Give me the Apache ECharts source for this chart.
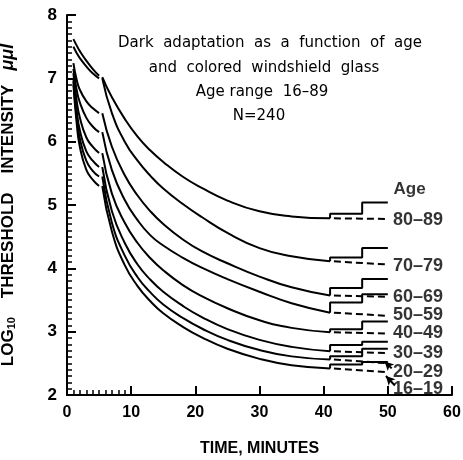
<!DOCTYPE html>
<html><head><meta charset="utf-8">
<script src="https://cdn.jsdelivr.net/npm/echarts@6/dist/echarts.min.js"></script>
<style>html,body{margin:0;padding:0;background:#fff}#c{width:463px;height:460px}</style>
</head><body><div id="c"></div>
<script>
// ---- data ----
const ageGroups = ['80–89','70–79','60–69','50–59','40–49','30–39','20–29','16–19'];
const xTicks = [0,10,20,30,40,50,60];
const yTicks = [2,3,4,5,6,7,8];
// early segment (first minutes)
const earlyTimes = [1,1.5,2,3,4,5];
const earlyValues = [
  [7.62,7.52,7.43,7.28,7.15,7.04],
  [7.50,7.40,7.32,7.19,7.08,7.00],
  [7.24,6.98,6.82,6.64,6.53,6.45],
  [7.15,6.82,6.62,6.38,6.24,6.15],
  [7.08,6.65,6.38,6.07,5.92,5.82],
  [7.00,6.50,6.18,5.85,5.70,5.60],
  [6.95,6.40,6.05,5.70,5.54,5.45],
  [6.90,6.30,5.92,5.56,5.40,5.30]
];
// main dark adaptation curve
const mainTimes = [5.5,7,9,11,13,15,18,21,25,30,35,41];
const mainValues = [
  [7.02,6.70,6.36,6.08,5.86,5.68,5.45,5.27,5.07,4.90,4.82,4.79],
  [7.00,6.45,6.00,5.70,5.46,5.26,5.02,4.81,4.56,4.32,4.19,4.11],
  [6.45,5.92,5.47,5.15,4.90,4.70,4.46,4.27,4.08,3.87,3.70,3.57],
  [6.15,5.55,5.08,4.76,4.52,4.36,4.17,4.01,3.83,3.63,3.45,3.30],
  [5.82,5.18,4.72,4.40,4.16,3.97,3.74,3.56,3.37,3.18,3.06,2.99],
  [5.60,4.90,4.40,4.06,3.82,3.63,3.41,3.23,3.04,2.87,2.76,2.69],
  [5.45,4.72,4.20,3.86,3.62,3.43,3.22,3.05,2.87,2.71,2.61,2.56],
  [5.30,4.58,4.05,3.72,3.48,3.29,3.08,2.91,2.73,2.57,2.47,2.42]
];
// colored windshield glass steps (solid) and no-glass continuation (dashed)
const glassTimes = [41,46,50];
const glassStep1 = [4.86,4.17,3.69,3.46,3.04,2.79,2.61,2.48];
const glassStep2 = [5.04,4.32,3.83,3.59,3.16,2.84,2.73,2.52];
const noGlassEnd = [4.78,4.06,3.55,3.25,2.97,2.66,2.50,2.36];
// label anchors (group labels at right)
const labelTime = 50.8;
const labelValues = [4.76,4.03,3.55,3.26,2.98,2.66,2.36,2.09];
const arrowFrom = [[50.6,2.42],[51.1,2.15]];
const arrowTo = [[49.5,2.53],[49.7,2.30]];

const black = '#000';
const font = 'Liberation Sans';
const lineBase = {type:'line', showSymbol:false, silent:true, animation:false, xAxisIndex:0, yAxisIndex:0};
const series = [];
ageGroups.forEach((g,i)=>{
  series.push(Object.assign({}, lineBase, {
    data: earlyTimes.map((t,j)=>[t, earlyValues[i][j]]),
    smooth:0.5, lineStyle:{color:black,width:2}
  }));
  series.push(Object.assign({}, lineBase, {
    data: mainTimes.map((t,j)=>[t, mainValues[i][j]]),
    smooth:0.5, lineStyle:{color:black,width:2}
  }));
  const b = mainValues[i][mainValues[i].length-1];
  series.push(Object.assign({}, lineBase, {
    data: [[glassTimes[0]+0.6,b],[glassTimes[2],noGlassEnd[i]]],
    lineStyle:{color:black,width:2,type:[7,4]}
  }));
  series.push(Object.assign({}, lineBase, {
    data: [[glassTimes[0],b],[glassTimes[0],glassStep1[i]],[glassTimes[1],glassStep1[i]],
           [glassTimes[1],glassStep2[i]],[glassTimes[2],glassStep2[i]]],
    lineStyle:{color:black,width:2}
  }));
});
series.push({
  type:'scatter', symbolSize:0, silent:true, animation:false,
  data: ageGroups.map((g,i)=>({name:g, value:[labelTime, labelValues[i]]})),
  label:{show:true, position:'right', distance:0, formatter:p=>p.name,
         color:black, fontFamily:font, fontWeight:'bold', fontSize:18}
});
series.push({
  type:'scatter', symbolSize:0, silent:true, animation:false,
  data:[{name:'Age', value:[53.4,5.24]}],
  label:{show:true, position:'inside', formatter:p=>p.name,
         color:black, fontFamily:font, fontWeight:'bold', fontSize:17}
});
series.push({
  type:'line', data:[], silent:true, animation:false,
  markLine:{silent:true, symbol:['none','arrow'], symbolSize:[7,9], animation:false,
    lineStyle:{color:black,width:2,type:'solid'}, label:{show:false},
    data: arrowFrom.map((f,k)=>[{coord:f},{coord:arrowTo[k]}])}
});

const minuteCats = [];
for (let m=0; m<=60; m++) minuteCats.push(String(m));

const chart = echarts.init(document.getElementById('c'), null, {renderer:'canvas'});
chart.setOption({
  backgroundColor:'#fff',
  animation:false,
  grid:{left:67, right:11, top:15, bottom:65, containLabel:false, outerBoundsMode:'none'},
  xAxis:[{
    type:'value', min:xTicks[0], max:xTicks[xTicks.length-1], interval:10,
    axisLine:{show:true, lineStyle:{color:black,width:2}},
    axisTick:{show:true, inside:true, length:9, lineStyle:{color:black,width:2}},
    axisLabel:{color:black, fontFamily:font, fontWeight:'bold', fontSize:16, margin:10},
    splitLine:{show:false},
    name:'TIME, MINUTES', nameLocation:'middle', nameGap:46,
    nameTextStyle:{color:black, fontFamily:font, fontWeight:'bold', fontSize:16}
  },{
    type:'category', data:minuteCats, boundaryGap:false, position:'bottom',
    axisLine:{show:false}, axisLabel:{show:false}, splitLine:{show:false},
    axisTick:{show:true, inside:true, length:5, interval:(idx)=>idx>0&&idx<10,
      lineStyle:{color:black,width:1.5}}
  }],
  yAxis:{
    type:'value', min:yTicks[0], max:yTicks[yTicks.length-1], interval:1,
    axisLine:{show:true, lineStyle:{color:black,width:2}},
    axisTick:{show:true, inside:true, length:9, lineStyle:{color:black,width:2}},
    minorTick:{show:true, splitNumber:10, length:5, lineStyle:{color:black,width:1.5}},
    axisLabel:{color:black, fontFamily:font, fontWeight:'bold', fontSize:17, margin:10},
    splitLine:{show:false},
    name:'{a|LOG}{s|10}{a|    THRESHOLD    INTENSITY   }{m|μμl}',
    nameLocation:'middle', nameGap:50, nameRotate:90,
    nameTextStyle:{rich:{
      a:{color:black, fontFamily:font, fontWeight:'bold', fontSize:17},
      s:{color:black, fontFamily:font, fontWeight:'bold', fontSize:11, verticalAlign:'bottom'},
      m:{color:black, fontFamily:font, fontWeight:'bold', fontStyle:'italic', fontSize:18}
    }}
  },
  graphic:[
    {type:'text', x:270, y:43, style:{text:'Dark  adaptation  as  a  function  of  age', fill:black, font:'15px "DejaVu Sans"', textAlign:'center', textVerticalAlign:'middle'}},
    {type:'text', x:264, y:68, style:{text:'and  colored  windshield  glass', fill:black, font:'15px "DejaVu Sans"', textAlign:'center', textVerticalAlign:'middle'}},
    {type:'text', x:262, y:92, style:{text:'Age range  16–89', fill:black, font:'15px "DejaVu Sans"', textAlign:'center', textVerticalAlign:'middle'}},
    {type:'text', x:259, y:116, style:{text:'N=240', fill:black, font:'15px "DejaVu Sans"', textAlign:'center', textVerticalAlign:'middle'}}
  ],
  series: series
});
</script>
</body></html>
